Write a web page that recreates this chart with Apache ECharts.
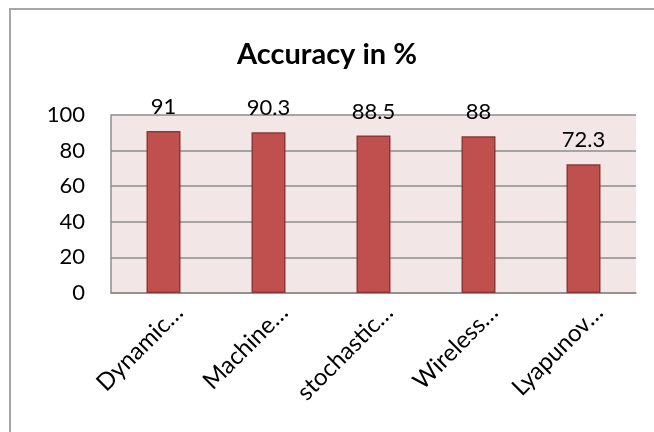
<!DOCTYPE html>
<html>
<head>
<meta charset="utf-8">
<script src="https://cdn.jsdelivr.net/npm/echarts@6/dist/echarts.min.js"></script>
<style>
html,body{margin:0;padding:0;background:#fff;}
#main{width:654px;height:432px;}
</style>
</head>
<body>
<div id="main"></div>
<script>
var categories = ['Dynamic…', 'Machine…', 'stochastic…', 'Wireless…', 'Lyapunov…'];
var accuracy = [91, 90.3, 88.5, 88, 72.3];
var yTicks = [0, 20, 40, 60, 80, 100];
var titleText = 'Accuracy in %';

var chart = echarts.init(document.getElementById('main'), null, {renderer: 'canvas'});
var FONT = 'Lato';
chart.setOption({
  animation: false,
  backgroundColor: '#ffffff',
  title: {
    text: titleText,
    left: 'center',
    top: 35,
    textStyle: {fontFamily: FONT, fontSize: 29, fontWeight: 'bold', color: '#000'}
  },
  graphic: [{
    type: 'rect',
    shape: {x: 10, y: 9, width: 1000, height: 1000},
    style: {fill: 'none', stroke: '#a6a6a6', lineWidth: 2},
    silent: true
  }],
  grid: {
    left: 111, right: 18, top: 115, bottom: 139,
    show: true, backgroundColor: '#f2e6e6', borderWidth: 0
  },
  xAxis: {
    type: 'category',
    data: categories,
    axisTick: {show: false},
    axisLine: {show: true, lineStyle: {color: '#8c8c8c', width: 1.5}},
    axisLabel: {
      rotate: 45, interval: 0, margin: 0,
      verticalAlign: 'top', padding: [10, 0, 0, 0],
      fontFamily: FONT, fontSize: 24, color: '#000'
    }
  },
  yAxis: {
    type: 'value',
    min: yTicks[0], max: yTicks[yTicks.length - 1], interval: 20,
    axisLine: {show: true, lineStyle: {color: '#8c8c8c', width: 1.5}},
    axisTick: {show: false},
    splitLine: {show: true, lineStyle: {color: '#8c8c8c', width: 1.5}},
    axisLabel: {margin: 26, fontFamily: FONT, fontSize: 22, color: '#000'}
  },
  series: [{
    type: 'bar',
    data: accuracy,
    barWidth: 34,
    itemStyle: {color: '#c0504d', borderColor: '#8c3836', borderWidth: 1.5},
    label: {
      show: true, position: 'top', distance: 13,
      fontFamily: FONT, fontSize: 22, color: '#000'
    }
  }]
});
</script>
</body>
</html>
